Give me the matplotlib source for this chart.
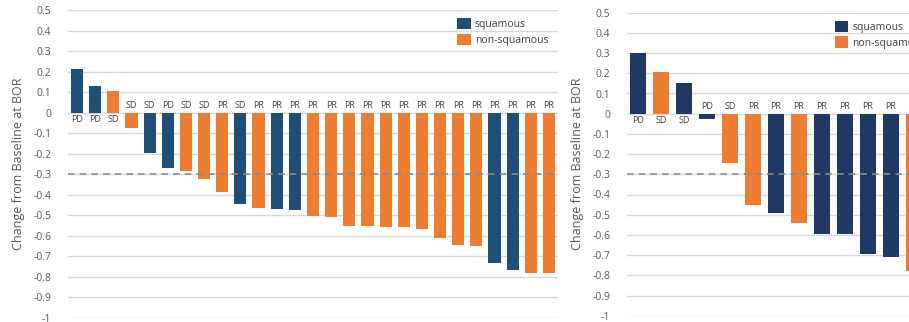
import numpy as np
import matplotlib
matplotlib.use('Agg')
import matplotlib.pyplot as plt
from matplotlib.patches import Patch

plt.rcParams['font.family'] = ['Open Sans', 'DejaVu Sans']

# 左图数据
left_values = [0.21, 0.13, 0.105, -0.076, -0.196, -0.27, -0.284, -0.324, -0.386, -0.446,
               -0.464, -0.469, -0.476, -0.503, -0.511, -0.554, -0.554, -0.559, -0.56, -0.568,
               -0.61, -0.646, -0.651, -0.731, -0.767, -0.78, -0.78]
left_types = ['sq', 'sq', 'ns', 'ns', 'sq', 'sq', 'ns', 'ns', 'ns', 'sq',
              'ns', 'sq', 'sq', 'ns', 'ns', 'ns', 'ns', 'ns', 'ns', 'ns',
              'ns', 'ns', 'ns', 'sq', 'sq', 'ns', 'ns']
left_bor = ['PD', 'PD', 'SD', 'SD', 'SD', 'PD', 'SD', 'SD', 'PR', 'SD',
            'PR', 'PR', 'PR', 'PR', 'PR', 'PR', 'PR', 'PR', 'PR', 'PR',
            'PR', 'PR', 'PR', 'PR', 'PR', 'PR', 'PR']

# 右图数据 (原图右侧被裁切)
right_values = [0.302, 0.204, 0.15, -0.028, -0.243, -0.454, -0.49, -0.541, -0.594, -0.597,
                -0.695, -0.711, -0.78]
right_types = ['sq', 'ns', 'sq', 'sq', 'ns', 'ns', 'sq', 'ns', 'sq', 'sq', 'sq', 'sq', 'ns']
right_bor = ['PD', 'SD', 'SD', 'PD', 'SD', 'PR', 'PR', 'PR', 'PR', 'PR', 'PR', 'PR', 'PR']

yticks = np.round(np.arange(-1.0, 0.51, 0.1), 1)
ytick_labels = ['-1', '-0.9', '-0.8', '-0.7', '-0.6', '-0.5', '-0.4', '-0.3', '-0.2', '-0.1',
                '0', '0.1', '0.2', '0.3', '0.4', '0.5']

orange = '#ED7D31'
grey_txt = '#595959'


def waterfall(ax, values, types, bor, blue, width, legend_x):
    x = np.arange(len(values))
    colors = [blue if t == 'sq' else orange for t in types]
    ax.bar(x, values, width=width, color=colors, zorder=3)
    for xi, v, lab in zip(x, values, bor):
        if v >= 0:
            ax.annotate(lab, xy=(xi, 0), xytext=(0, -2), textcoords='offset points',
                        ha='center', va='top', fontsize=6.5, color='#404040')
        else:
            ax.annotate(lab, xy=(xi, 0), xytext=(0, 2), textcoords='offset points',
                        ha='center', va='bottom', fontsize=6.5, color='#404040')
    ax.axhline(-0.3, color='#8C8C8C', linestyle=(0, (4, 3)), linewidth=1.2, zorder=4)
    ax.set_ylim(-1.0, 0.5)
    ax.set_xlim(-0.5, len(values) - 0.5)
    ax.set_yticks(yticks)
    ax.set_yticklabels(ytick_labels)
    ax.yaxis.grid(True, color='#D9D9D9', linewidth=1)
    ax.set_axisbelow(True)
    ax.set_xticks([])
    for s in ax.spines.values():
        s.set_visible(False)
    ax.tick_params(axis='y', length=0, labelsize=7.5, labelcolor=grey_txt, pad=12)
    ax.set_ylabel('Change from Baseline at BOR', fontsize=9, color=grey_txt, labelpad=6)
    handles = [Patch(facecolor=blue, label='squamous'),
               Patch(facecolor=orange, label='non-squamous')]
    ax.legend(handles=handles, loc='upper left', bbox_to_anchor=(legend_x, 1.005),
              frameon=False, fontsize=7.5, handlelength=1.3, handleheight=1.3,
              handletextpad=0.4, labelspacing=0.35, labelcolor='#404040')


fig = plt.figure(figsize=(9.09, 3.22), dpi=100)

ax1 = fig.add_axes([68 / 909, 1 - 317.7 / 322, 490 / 909, 307.7 / 322])
waterfall(ax1, left_values, left_types, left_bor, '#1F4E79', 0.67, 0.775)

ax2 = fig.add_axes([627 / 909, 1 - 315.7 / 322, 298 / 909, 303 / 322])
waterfall(ax2, right_values, right_types, right_bor, '#203864', 0.7, 0.665)

plt.savefig('out.png', dpi=100)
plt.close()
